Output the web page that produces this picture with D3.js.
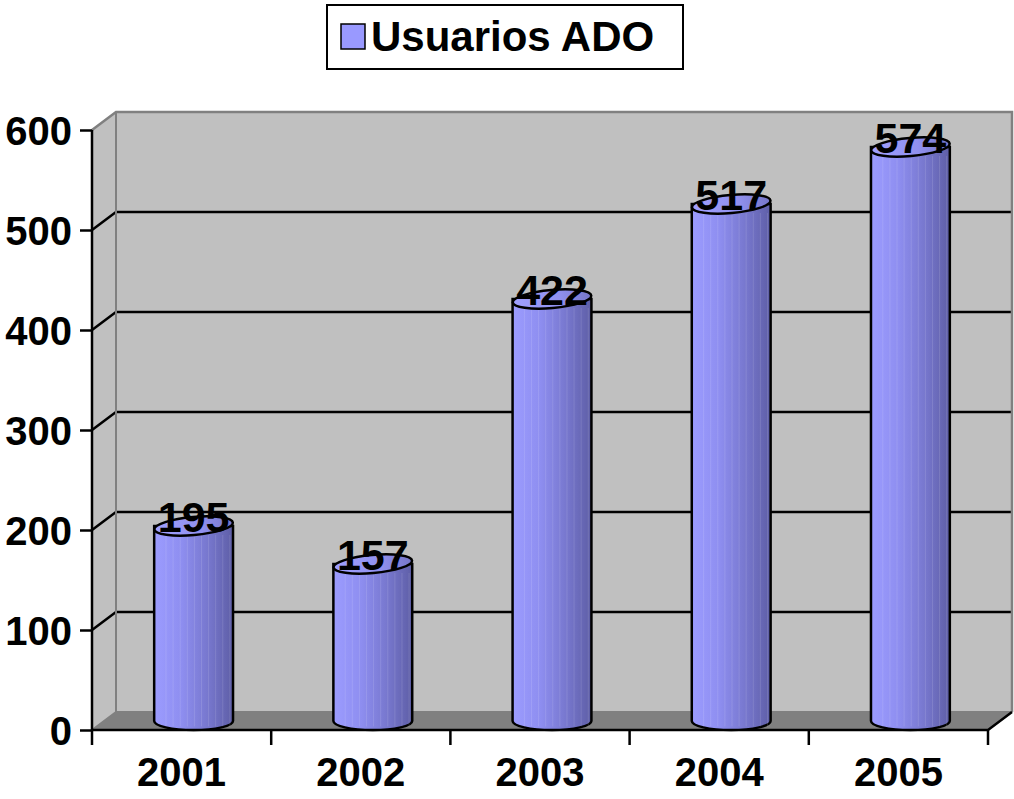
<!DOCTYPE html>
<html>
<head>
<meta charset="utf-8">
<script src="https://cdn.jsdelivr.net/npm/d3@7"></script>
<style>
  body { margin: 0; background: #fff; }
  text { font-family: "Liberation Sans", Arial, sans-serif; font-weight: bold; }
</style>
</head>
<body>
<div id="chart"></div>
<script>
const years = ["2001", "2002", "2003", "2004", "2005"];
const usuarios = [195, 157, 422, 517, 574];
const yTicks = [0, 100, 200, 300, 400, 500, 600];
const seriesName = "Usuarios ADO";

const width = 1014;
const height = 799;

const svg = d3.select("#chart")
  .append("svg")
  .attr("width", width)
  .attr("height", height);

// 3d depth offset of the back wall
const dx = 24, dy = -18;

const x = d3.scaleBand().domain(years).range([92, 988]);
const y = d3.scaleLinear().domain([0, 600]).range([730, 130]);

const defs = svg.append("defs");
const bodyGrad = defs.append("linearGradient").attr("id", "body");
[[0, "#9c9cff"], [0.35, "#8e8ef0"], [0.7, "#7676cc"], [1, "#5e5ea6"]].forEach(s => {
  bodyGrad.append("stop").attr("offset", s[0]).attr("stop-color", s[1]);
});
const topGrad = defs.append("linearGradient").attr("id", "top");
[[0, "#a0a0ff"], [0.6, "#9090ee"], [1, "#7676c8"]].forEach(s => {
  topGrad.append("stop").attr("offset", s[0]).attr("stop-color", s[1]);
});

const x0 = 92, x1 = 988;

// back wall
svg.append("rect")
  .attr("x", x0 + dx).attr("y", y(600) + dy)
  .attr("width", x1 - x0).attr("height", y(0) - y(600))
  .attr("fill", "#c0c0c0");

// side wall
svg.append("path")
  .attr("d", `M${x0},${y(0)} L${x0},${y(600)} L${x0 + dx},${y(600) + dy} L${x0 + dx},${y(0) + dy} Z`)
  .attr("fill", "#c0c0c0");

// floor
svg.append("path")
  .attr("d", `M${x0},${y(0)} L${x1},${y(0)} L${x1 + dx},${y(0) + dy} L${x0 + dx},${y(0) + dy} Z`)
  .attr("fill", "#808080");

// gridlines on back and side wall
yTicks.filter(t => t > 0 && t < 600).forEach(t => {
  svg.append("path")
    .attr("d", `M${x0},${y(t)} L${x0 + dx},${y(t) + dy} L${x1 + dx},${y(t) + dy}`)
    .attr("fill", "none")
    .attr("stroke", "#000")
    .attr("stroke-width", 2.5);
});

// wall edges
svg.append("path")
  .attr("d", `M${x0},${y(600)} L${x0 + dx},${y(600) + dy} L${x1 + dx},${y(600) + dy} L${x1 + dx},${y(0) + dy}`)
  .attr("fill", "none").attr("stroke", "#808080").attr("stroke-width", 2.5);
svg.append("path")
  .attr("d", `M${x0 + dx},${y(600) + dy} L${x0 + dx},${y(0) + dy} L${x1 + dx},${y(0) + dy} M${x0 + dx},${y(0) + dy} L${x0},${y(0)}`)
  .attr("fill", "none").attr("stroke", "#808080").attr("stroke-width", 2);

// floor front and right edges
svg.append("path")
  .attr("d", `M${x0},${y(0)} L${x1},${y(0)} L${x1 + dx},${y(0) + dy}`)
  .attr("fill", "none").attr("stroke", "#000").attr("stroke-width", 2.5);

// y axis
const yAxis = svg.append("g")
  .attr("transform", `translate(${x0},0)`)
  .call(d3.axisLeft(y).tickValues(yTicks).tickSize(12).tickPadding(8).tickFormat(d3.format("d")));
yAxis.select(".domain").attr("stroke", "#000").attr("stroke-width", 2.5).attr("d", `M0,${y(600)}V${y(0)}`);
yAxis.selectAll(".tick line").attr("stroke", "#000").attr("stroke-width", 2.5);
yAxis.selectAll(".tick text")
  .attr("fill", "#000")
  .style("font-size", "40px")
  .style("font-family", "'Liberation Sans', Arial, sans-serif")
  .style("font-weight", "bold")
  .attr("dy", "0.36em");

// x axis ticks and labels
const xAxis = svg.append("g")
  .attr("transform", `translate(0,${y(0)})`)
  .call(d3.axisBottom(x).tickSize(0).tickPadding(48));
xAxis.select(".domain").remove();
xAxis.selectAll(".tick text")
  .attr("fill", "#000")
  .style("font-size", "40px")
  .style("font-family", "'Liberation Sans', Arial, sans-serif")
  .style("font-weight", "bold")
  .attr("dy", "0.2em");
const edges = years.map(d => x(d)).concat([x1]);
svg.selectAll(".xtick")
  .data(edges)
  .enter().append("line")
  .attr("x1", d => d).attr("x2", d => d)
  .attr("y1", y(0)).attr("y2", y(0) + 15)
  .attr("stroke", "#000").attr("stroke-width", 2.5);

// cylinders
const rx = x.bandwidth() * 0.22;
const ry = 9;
const rot = -5;

const cyl = svg.selectAll(".cyl")
  .data(years.map((d, i) => ({ year: d, value: usuarios[i] })))
  .enter().append("g")
  .attr("class", "cyl");

const cx = d => x(d.year) + x.bandwidth() / 2 + dx / 2;
const topY = d => y(d.value) + dy / 2;
const botY = y(0) + dy / 2;

cyl.append("path")
  .attr("d", d => {
    const c = cx(d), t = topY(d);
    return `M${c - rx},${t} L${c - rx},${botY} A${rx},${ry} 0 0 0 ${c + rx},${botY} L${c + rx},${t} Z`;
  })
  .attr("fill", "url(#body)")
  .attr("stroke", "#000")
  .attr("stroke-width", 2.5);

// faint vertical stripes on the body
cyl.each(function(d) {
  const g = d3.select(this);
  const c = cx(d), t = topY(d);
  d3.range(0.15, 1, 0.09).forEach(f => {
    g.append("line")
      .attr("x1", c - rx + f * 2 * rx).attr("x2", c - rx + f * 2 * rx)
      .attr("y1", t + ry).attr("y2", botY + ry * 0.6)
      .attr("stroke", "#ffffff")
      .attr("stroke-opacity", 0.12)
      .attr("stroke-width", 1);
  });
});

cyl.append("ellipse")
  .attr("cx", cx)
  .attr("cy", topY)
  .attr("rx", rx)
  .attr("ry", ry)
  .attr("transform", d => `rotate(${rot},${cx(d)},${topY(d)})`)
  .attr("fill", "url(#top)")
  .attr("stroke", "#000")
  .attr("stroke-width", 2.5);

// value labels
cyl.append("text")
  .attr("x", cx)
  .attr("y", d => topY(d) + 6)
  .attr("text-anchor", "middle")
  .style("font-size", "43px")
  .attr("fill", "#000")
  .text(d => d.value);

// legend
const legend = svg.append("g");
legend.append("rect")
  .attr("x", 327).attr("y", 5)
  .attr("width", 356).attr("height", 64)
  .attr("fill", "#fff")
  .attr("stroke", "#000")
  .attr("stroke-width", 2);
legend.append("rect")
  .attr("x", 341).attr("y", 24)
  .attr("width", 24).attr("height", 25)
  .attr("fill", "#9999ff")
  .attr("stroke", "#000")
  .attr("stroke-width", 1.5);
legend.append("text")
  .attr("x", 371).attr("y", 51)
  .style("font-size", "42px")
  .attr("fill", "#000")
  .text(seriesName);
</script>
</body>
</html>
